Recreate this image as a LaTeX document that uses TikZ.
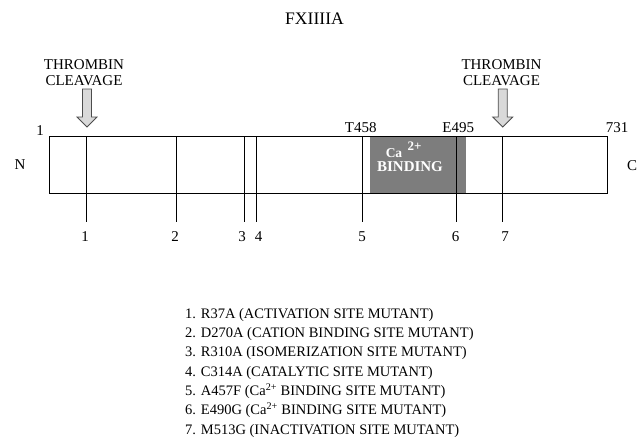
\documentclass[tikz,border=0pt]{standalone}
\usepackage{fontspec}
\setmainfont{Liberation Serif}
\begin{document}
\begin{tikzpicture}[x=1pt,y=-1pt,
  lbl/.style={inner sep=0pt, font=\fontsize{15}{18}\selectfont},
  twoline/.style={inner sep=0pt, align=center, font=\fontsize{15}{15.7}\selectfont},
  mutline/.style={draw=black, line width=0.9pt},
  barbox/.style={draw=black, line width=0.9pt, inner sep=0pt, anchor=north west, minimum height=56.7pt},
  cabox/.style={fill={rgb,255:red,125;green,125;blue,125}, inner sep=0pt, anchor=north west, minimum height=56.7pt},
  domtext/.style={inner sep=0pt, text=white, font=\bfseries\fontsize{15}{16}\selectfont},
  cleave/.style={draw=black!70, fill=black!15, line width=0.8pt, line join=miter},
  legend/.style={anchor=base west, inner sep=0pt, font=\fontsize{14.5}{17}\selectfont}
]
\useasboundingbox (0,0) rectangle (638,439);

% title
\node[inner sep=0pt, font=\fontsize{17.6}{20}\selectfont] (title) at (314.5,18.5) {FXIIIIA};

% calcium-binding domain (drawn under the bar outline)
\node[cabox, minimum width=95.7pt] (ca) at (370,136) {};
% protein bar
\node[barbox, minimum width=558pt] (bar) at (49,136) {};

\node[domtext, font=\bfseries\fontsize{13.5}{15}\selectfont] (catext) at (394,153.5) {Ca};
\node[domtext, font=\bfseries\fontsize{13}{15}\selectfont] (casup) at (414.5,146) {2+};
\node[domtext] (bind) at (410,166.7) {BINDING};

% end labels
\node[lbl] (one) at (40,131) {1};
\node[lbl] (nterm) at (20,165) {N};
\node[lbl] (end) at (617,127.3) {731};
\node[lbl] (cterm) at (632,165.5) {C};
\node[lbl] (t458) at (360.8,127.3) {T458};
\node[lbl] (e495) at (458.3,127.3) {E495};

% thrombin cleavage arrows
\foreach \n/\cx/\tx in {L/87/84, R/502.7/501.5} {
  \draw[cleave] (\cx-4.5,89) -- (\cx+4.5,89) -- (\cx+4.5,117) -- (\cx+10,117)
      -- (\cx,127) -- (\cx-10,117) -- (\cx-4.5,117) -- cycle;
  \coordinate (tip\n) at (\cx,127);
  \node[twoline] (thr\n) at (\tx,72.8) {THROMBIN\\CLEAVAGE};
}

% mutation sites
\foreach \i/\x/\lx in {1/86.7/85, 2/176.7/175, 3/244.3/242, 4/256.7/258.5, 5/362.3/362, 6/456.7/455.5, 7/502.7/505} {
  \coordinate (t\i) at (\x,136);
  \coordinate (b\i) at (\x,222);
  \draw[mutline] (t\i) -- (b\i);
  \node[lbl] (n\i) at (\lx,236.7) {\i};
}

% legend
\node[legend] (l1) at (185,318.3) {1. R37A (ACTIVATION SITE MUTANT)};
\node[legend] (l2) at (185,337.6) {2. D270A (CATION BINDING SITE MUTANT)};
\node[legend] (l3) at (185,356.9) {3. R310A (ISOMERIZATION SITE MUTANT)};
\node[legend] (l4) at (185,376.2) {4. C314A (CATALYTIC SITE MUTANT)};
\node[legend] (l5) at (185,395.5) {5. A457F (Ca\textsuperscript{2+} BINDING SITE MUTANT)};
\node[legend] (l6) at (185,414.8) {6. E490G (Ca\textsuperscript{2+} BINDING SITE MUTANT)};
\node[legend] (l7) at (185,434.1) {7. M513G (INACTIVATION SITE MUTANT)};
\end{tikzpicture}
\end{document}
